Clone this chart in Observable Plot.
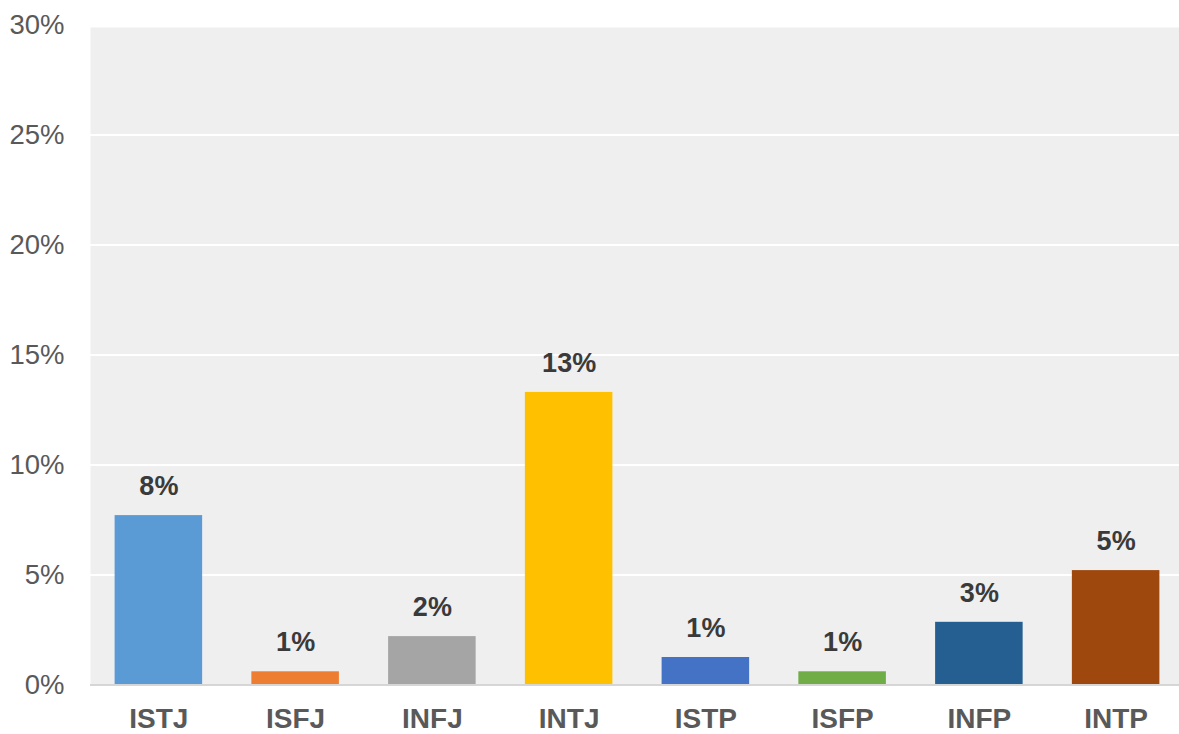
<!DOCTYPE html>
<html>
<head>
<meta charset="utf-8">
<script src="https://cdn.jsdelivr.net/npm/d3@7"></script>
<script src="https://cdn.jsdelivr.net/npm/@observablehq/plot@0.6"></script>
<style>
  html, body { margin: 0; padding: 0; background: #fff; }
</style>
</head>
<body>
<div id="chart"></div>
<script>
const categories = ["ISTJ", "ISFJ", "INFJ", "INTJ", "ISTP", "ISFP", "INFP", "INTP"];
const values = [7.7, 0.6, 2.2, 13.3, 1.25, 0.6, 2.85, 5.2];
const valueLabels = ["8%", "1%", "2%", "13%", "1%", "1%", "3%", "5%"];
const colors = ["#5B9BD5", "#ED7D31", "#A5A5A5", "#FFC000", "#4472C4", "#70AD47", "#255E91", "#9E480E"];
const yTicks = [0, 5, 10, 15, 20, 25, 30];
const gridTicks = [5, 10, 15, 20, 25];

const data = categories.map((c, i) => ({cat: c, v: values[i], label: valueLabels[i], color: colors[i]}));

const chart = Plot.plot({
  width: 1179,
  height: 734,
  marginLeft: 90,
  marginRight: 0,
  marginTop: 27,
  marginBottom: 49,
  style: {fontFamily: "'Liberation Sans', Arial, Helvetica, sans-serif", color: "#595959", background: "#fff"},
  x: {domain: categories, range: [90, 1184], paddingInner: 0.36, paddingOuter: 0.18, round: false, label: null},
  y: {domain: [0, 30], range: [684.5, 24.5], label: null},
  color: {type: "identity"},
  marks: [
    Plot.frame({fill: "#efefef", stroke: null}),
    Plot.ruleY(gridTicks, {stroke: "#ffffff", strokeWidth: 2}),
    Plot.barY(data, {x: "cat", y: "v", fill: "color"}),
    Plot.ruleY([0], {stroke: "#d6d6d6", strokeWidth: 2}),
    Plot.text(data, {x: "cat", y: "v", text: "label", dy: -29, fontSize: 27, fontWeight: "bold", fill: "#3a3a3a", lineAnchor: "middle"}),
    Plot.axisY({ticks: yTicks, tickFormat: d => d + "%", tickSize: 0, tickPadding: 26, fontSize: 27.5, lineAnchor: "middle"}),
    Plot.axisX({tickSize: 0, tickPadding: 34, fontSize: 28, fontWeight: "bold", lineAnchor: "middle"})
  ]
});
document.getElementById("chart").appendChild(chart);
</script>
</body>
</html>
